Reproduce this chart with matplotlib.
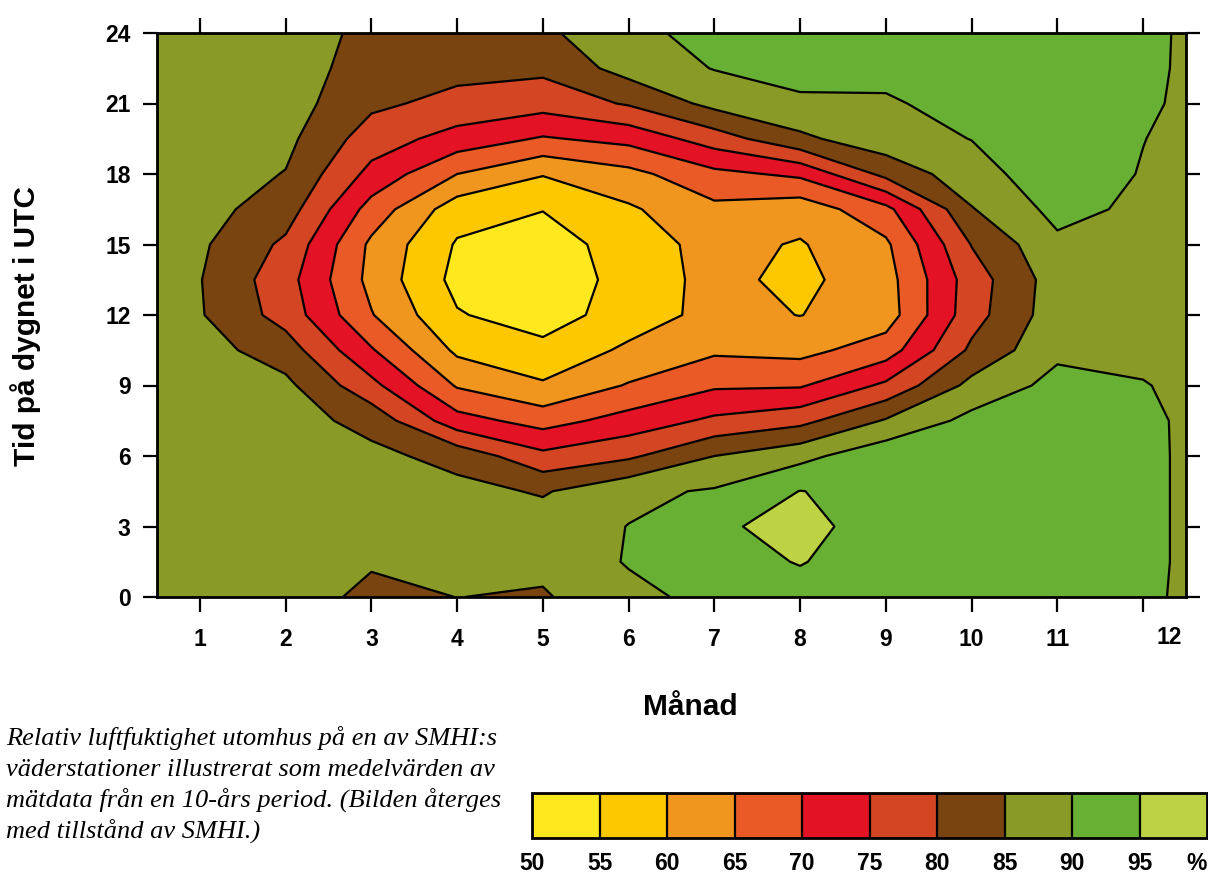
import numpy as np
from matplotlib import pyplot as plt

# hours of the day (rows) and months (columns, with half-month edges)
hours = [0, 1.5, 3, 4.5, 6, 7.5, 9, 10.5, 12, 13.5, 15, 16.5, 18, 19.5, 21, 22.5, 24]
months = [0.5, 1, 2, 3, 4, 5, 6, 7, 8, 9, 10, 11, 12, 12.5]

# relative humidity (%) per month, one value per hour above
edge_left = [88, 88, 88, 88, 88, 88, 88, 88, 88, 88, 88, 88, 88, 88, 88, 88, 88]
jan = [88, 88, 88, 88, 88, 88, 87.8, 87, 85.4, 85.2, 85.8, 86.8, 87.5, 88, 88, 88, 88]
feb = [88, 88, 88, 88, 87.5, 87.2, 86.2, 82.5, 78, 77, 79, 82.5, 84.8, 86.3, 87.3, 87.8, 88]
mar = [83.5, 85.6, 86.5, 86.5, 86.3, 83.3, 76.5, 70.5, 65.3, 63.5, 64, 68, 73.5, 77.5, 81, 82.5, 83.5]
apr = [85.05, 86, 86.8, 86.5, 83.3, 72, 64.5, 59, 55.4, 53.5, 54.5, 57.2, 65, 73, 78.5, 81.5, 83]
may = [84.5, 86.2, 87.5, 84.5, 76.3, 68, 60.6, 56.5, 52.5, 50.5, 52, 55.2, 60.3, 69.5, 77, 81.1, 84]
jun = [88.5, 90.4, 90.1, 88.9, 79.1, 72, 65.4, 60.9, 57.5, 57.5, 57.8, 59.3, 63.5, 71.5, 80.5, 87, 88.8]
jul = [91.6, 93.5, 94.5, 90.5, 85, 76, 69.3, 64.2, 61.5, 61.3, 61.5, 63.8, 68.7, 77.5, 86.5, 90.2, 91.5]
aug = [93.5, 95.2, 96, 95.1, 88.5, 78.5, 69.5, 63.5, 59.9, 58.8, 59.6, 62, 71, 84, 88.8, 92.5, 93]
sep = [92.5, 93, 93.5, 93.5, 93.5, 85.5, 76, 67.5, 62.5, 63, 64.1, 68.5, 81.5, 88, 89.5, 91.2, 92]
okt = [92.5, 93, 93.5, 93.5, 93.5, 91.5, 86.5, 81, 78, 77.5, 80.2, 84.7, 88, 90.1, 91.5, 92.5, 93]
nov = [93, 93.5, 93.5, 93.5, 93.5, 93, 91.5, 89, 87.8, 87.5, 89, 91.5, 93, 93.5, 93.5, 93.5, 93]
dec = [91.5, 92, 92, 92, 92, 91.8, 90.3, 88.5, 87.5, 87.5, 88, 89, 89.7, 90.1, 91.2, 92, 92.3]
edge_right = [88.8, 88.8, 88.8, 88.8, 88.8, 88.8, 88.8, 88.8, 88.8, 88.8, 88.8, 88.8, 88.8, 88.8, 88.8, 88.8, 88.8]

levels = [50, 55, 60, 65, 70, 75, 80, 85, 90, 95, 100]
level_labels = ['50', '55', '60', '65', '70', '75', '80', '85', '90', '95', '%']
colors = ['#ffe81e', '#fdc800', '#f0961e', '#e95a26', '#e31225',
          '#d44623', '#7a4410', '#899a26', '#67b034', '#bed344']

month_ticks = [1, 2, 3, 4, 5, 6, 7, 8, 9, 10, 11, 12]
hour_ticks = [0, 3, 6, 9, 12, 15, 18, 21, 24]

caption = ['Relativ luftfuktighet utomhus på en av SMHI:s',
           'väderstationer illustrerat som medelvärden av',
           'mätdata från en 10-års period. (Bilden återges',
           'med tillstånd av SMHI.)']


def main():
  plt.rcParams['font.family'] = ['Liberation Sans', 'DejaVu Sans']
  W, H = 1208, 876
  fig = plt.figure(figsize=(W / 100, H / 100), dpi=100)

  ax = fig.add_axes([157 / W, 1 - 597 / H, (1186 - 157) / W, (597 - 33) / H])

  Z = np.column_stack([edge_left, jan, feb, mar, apr, may, jun, jul, aug,
                       sep, okt, nov, dec, edge_right])
  X, Y = np.meshgrid(months, hours)

  cf = ax.contourf(X, Y, Z, levels=levels, colors=colors)
  ax.contour(X, Y, Z, levels=levels[1:-1], colors='k', linewidths=1.6)

  ax.set_xlim(0.5, 12.5)
  ax.set_ylim(0, 24)
  ax.set_xticks(month_ticks)
  ax.set_xticklabels([str(m) for m in month_ticks[:-1]] + [''])
  # the label of the last month sits a bit to the right of its tick
  ax.text(12.3, -0.071, '12', transform=ax.get_xaxis_transform(),
          ha='center', va='center', fontsize=16.5, fontweight='bold')
  ax.set_yticks(hour_ticks)
  ax.tick_params(axis='x', which='both', top=True, bottom=True, direction='out',
                 length=11, width=1.6, pad=11, labelsize=16.5)
  ax.tick_params(axis='y', which='both', left=True, right=True, direction='out',
                 length=10, width=1.6, pad=9, labelsize=16.5)
  for lab in ax.get_xticklabels() + ax.get_yticklabels():
    lab.set_fontweight('bold')
  for sp in ax.spines.values():
    sp.set_linewidth(2)

  fig.text(690 / W, 1 - 707 / H, 'Månad', ha='center', va='center',
           fontsize=21.5, fontweight='bold')
  fig.text(26 / W, 1 - 326 / H, 'Tid på dygnet i UTC', ha='center', va='center',
           rotation=90, fontsize=21.5, fontweight='bold')

  ys = [745, 776, 807, 838]
  for line, y in zip(caption, ys):
    fig.text(6 / W, 1 - y / H, line, ha='left', va='baseline',
             family='Liberation Serif', style='italic', fontsize=19)

  cax = fig.add_axes([532 / W, 1 - 838 / H, (1207 - 532) / W, 45 / H])
  cb = fig.colorbar(cf, cax=cax, orientation='horizontal', drawedges=True)
  cb.outline.set_linewidth(2)
  cb.dividers.set_linewidth(1.6)
  cb.set_ticks(levels)
  cb.set_ticklabels(level_labels)
  cax.tick_params(length=0, pad=10, labelsize=16.5)
  labs = cax.get_xticklabels()
  for lab in labs:
    lab.set_fontweight('bold')
  labs[-1].set_horizontalalignment('right')

  fig.savefig('out.png', dpi=100)


if __name__ == "__main__":
  main()
